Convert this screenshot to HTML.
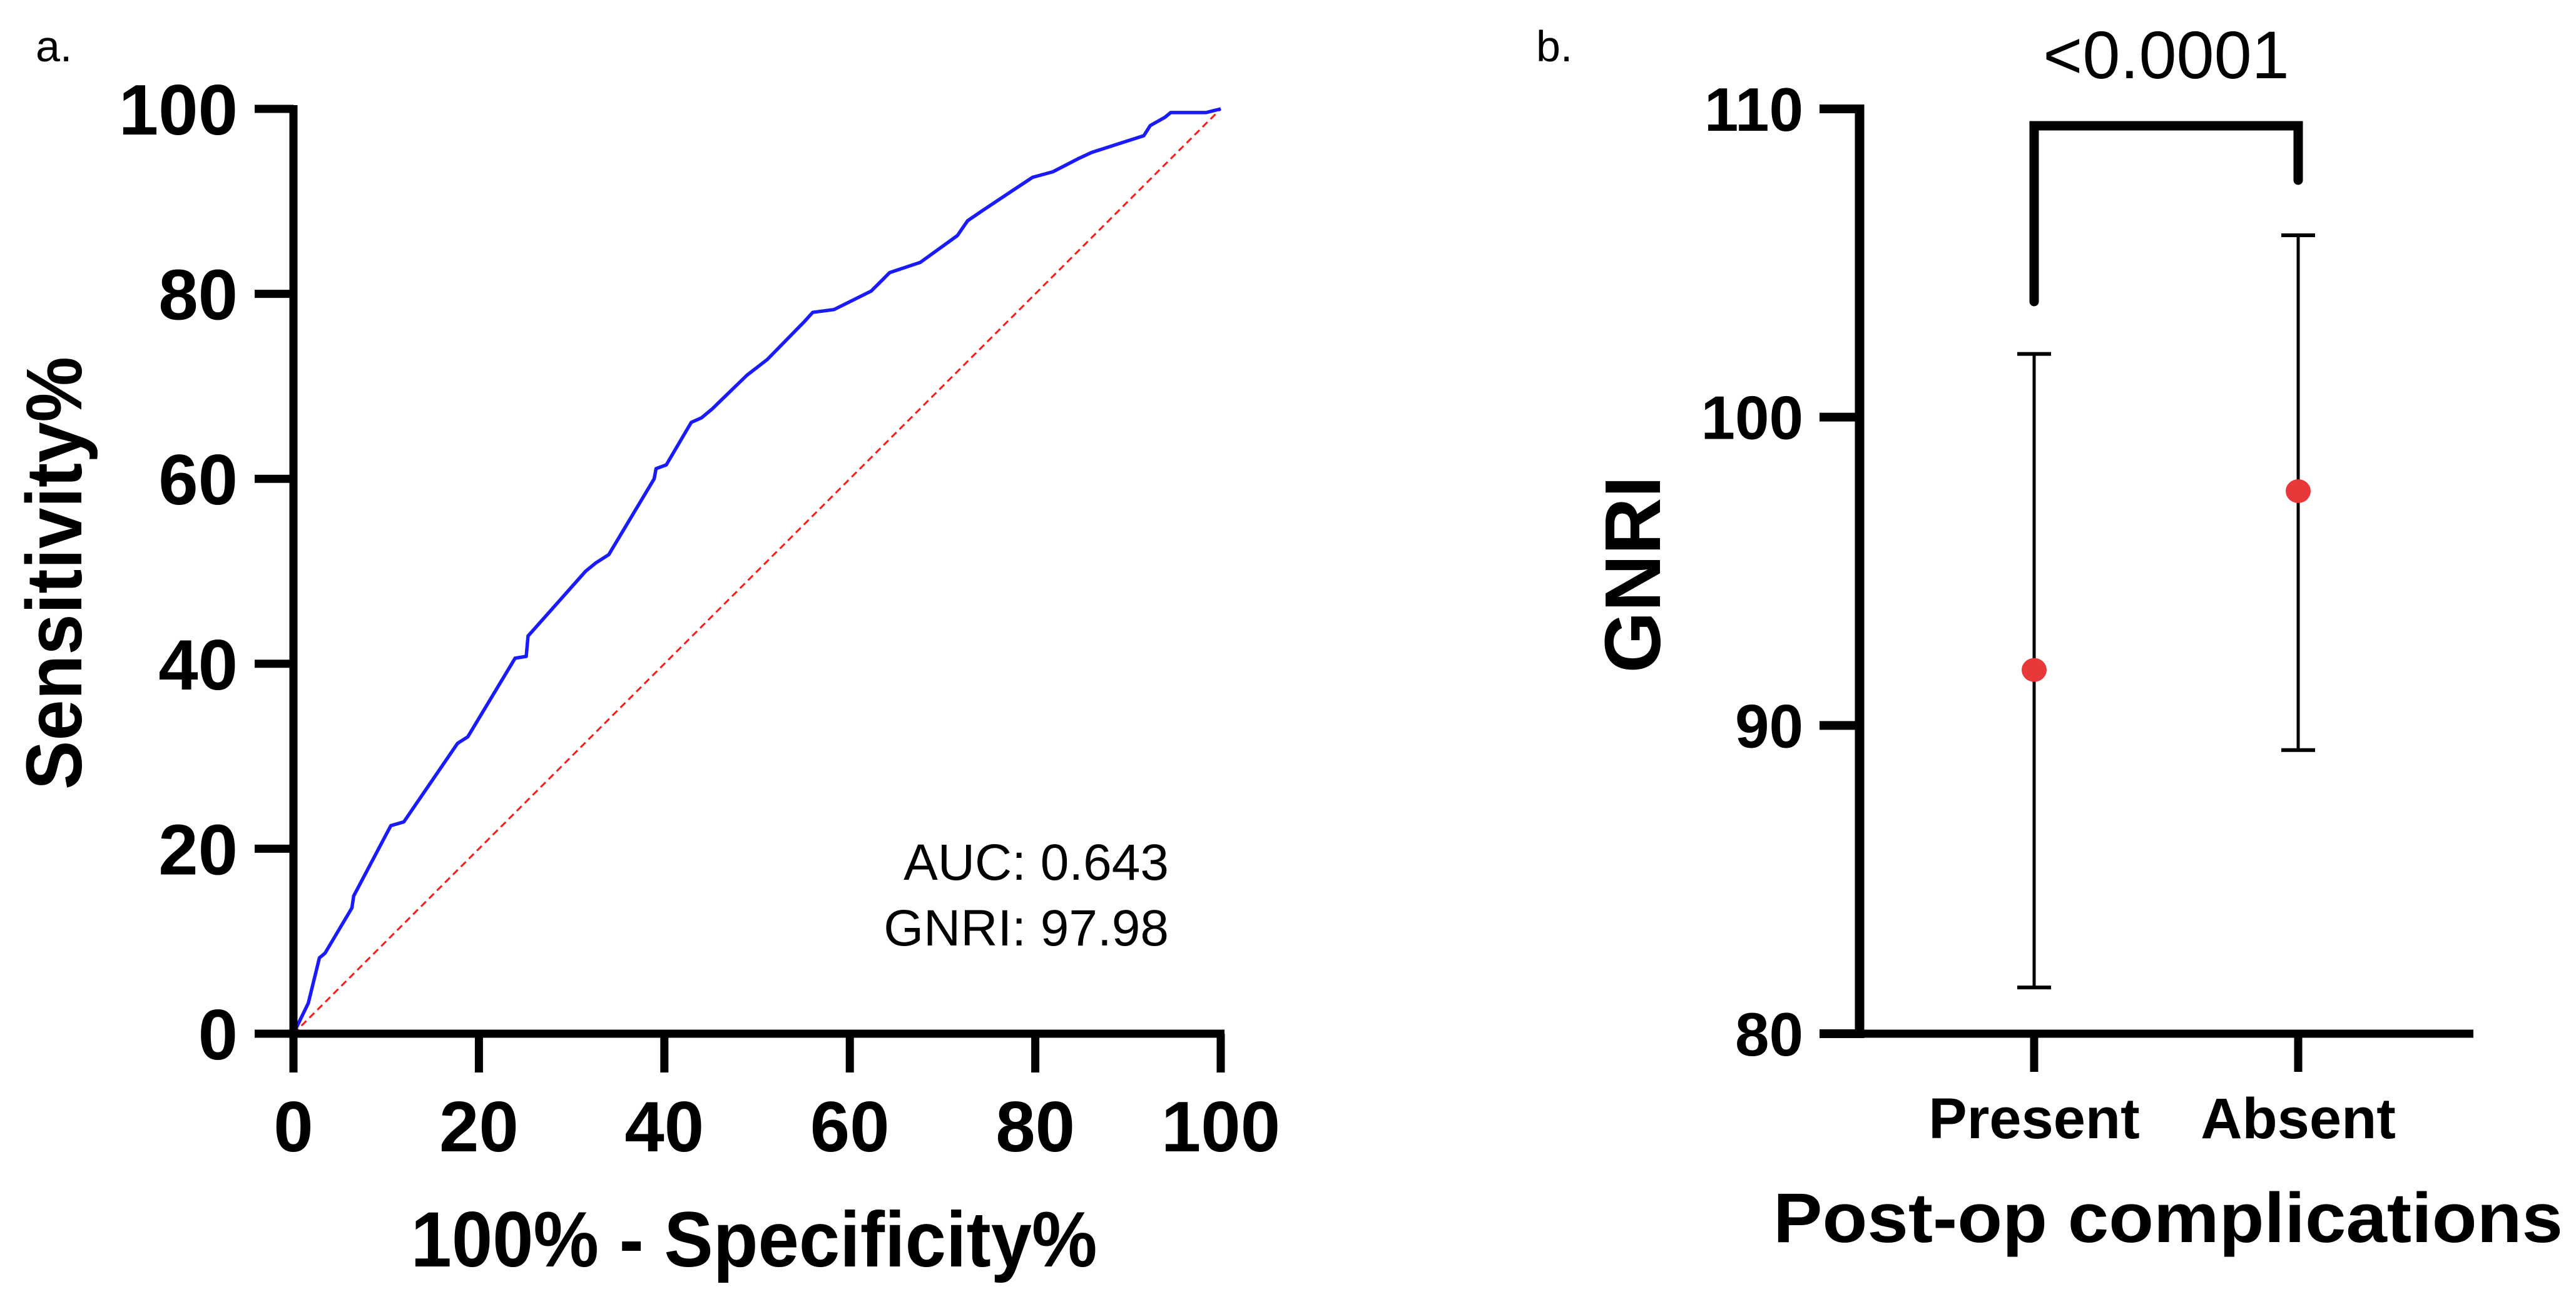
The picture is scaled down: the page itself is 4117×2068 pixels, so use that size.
<!DOCTYPE html>
<html><head><meta charset="utf-8"><style>
html,body{margin:0;padding:0;background:#fff;}
svg{display:block;font-family:"Liberation Sans",Arial,sans-serif;}
</style></head><body>
<svg id="fig" width="4117" height="2068" viewBox="0 0 4117 2068" xmlns="http://www.w3.org/2000/svg">
  <rect x="0" y="0" width="4117" height="2068" fill="#fff"/>
  <g id="panelA">
    <text x="57" y="98" font-size="70" fill="#000">a.</text>
    <g id="rocMarks"></g>
    <g id="rocAxes"></g>
    <text x="86" y="916" font-size="126" font-weight="bold" text-anchor="middle" transform="rotate(-90 86 916)" dy="44" textLength="692" lengthAdjust="spacingAndGlyphs">Sensitivity%</text>
    <text x="1205" y="2024" font-size="125" font-weight="bold" text-anchor="middle" textLength="1097" lengthAdjust="spacingAndGlyphs">100% - Specificity%</text>
    <text x="1868" y="1406" font-size="82" text-anchor="end">AUC: 0.643</text>
    <text x="1868" y="1511" font-size="82" text-anchor="end">GNRI: 97.98</text>
  </g>
  <g id="panelB">
    <text x="2455" y="98" font-size="70" fill="#000">b.</text>
    <g id="gnriMarks"></g>
    <g id="gnriAxes"></g>
    <text x="2608" y="918" font-size="126" font-weight="bold" text-anchor="middle" transform="rotate(-90 2608 918)" dy="45">GNRI</text>
    <text x="3465" y="1985" font-size="112" font-weight="bold" text-anchor="middle" textLength="1262" lengthAdjust="spacingAndGlyphs">Post-op complications</text>
  </g>
</svg>
<script>
// ---- Panel a data (ROC) ----
const rocFpr = [0,1.6,2.8,3.4,6.3,6.5,10.5,11.9,17.7,18.8,23.9,25.1,25.3,31.5,32.6,34.0,38.9,39.1,40.2,42.9,44.0,45.1,48.9,51.1,55.1,56.0,58.3,62.3,63.6,64.3,67.6,71.6,72.7,74.3,77.9,79.7,81.9,84.6,86.1,91.7,92.4,94.0,94.6,98.4,100];
const rocTpr = [0,3.3,8.2,8.7,13.6,14.9,22.5,22.9,31.4,32.1,40.6,40.8,43.0,50.0,50.9,51.8,60.0,61.1,61.5,66.1,66.6,67.5,71.2,72.9,77.0,78.0,78.3,80.3,81.6,82.3,83.4,86.3,87.9,89.0,91.4,92.6,93.2,94.6,95.3,97.1,98.2,99.1,99.6,99.6,100];
const rocTicks = [0,20,40,60,80,100];
const rocTickLabels = ["0","20","40","60","80","100"];

// ---- Panel b data ----
const groups = ["Present","Absent"];
const groupMeans = [91.8,97.6];
const groupUpper = [102.05,105.9];
const groupLower = [81.5,89.2];
const gnriTicks = [80,90,100,110];
const gnriTickLabels = ["80","90","100","110"];
const pValueLabel = "<0.0001";

const NS = "http://www.w3.org/2000/svg";
function mk(parent, tag, attrs){ const e=document.createElementNS(NS,tag); for(const k in attrs) e.setAttribute(k,attrs[k]); parent.appendChild(e); return e; }

// Panel a scales
const ax0=469, ax1=1951, ay0=1652, ay1=174;
const sx = v => ax0 + (v-0)/(100-0)*(ax1-ax0);
const sy = v => ay0 - (v-0)/(100-0)*(ay0-ay1);
const rocMarks=document.getElementById('rocMarks');
const rocAxes=document.getElementById('rocAxes');

let diag = mk(rocMarks,'line',{x1:sx(0),y1:sy(0),x2:sx(100),y2:sy(100),stroke:'#ff1a1a','stroke-width':3,'stroke-dasharray':'11 7'});


let d = rocFpr.map((f,i)=>(i?'L':'M')+sx(f).toFixed(1)+','+sy(rocTpr[i]).toFixed(1)).join(' ');
let roc = mk(rocMarks,'path',{d:d,fill:'none',stroke:'#1a1aff','stroke-width':5.5,'stroke-linejoin':'round'});



let yAx = mk(rocAxes,'line',{x1:ax0,y1:ay1-6,x2:ax0,y2:ay0+6,stroke:'#000','stroke-width':13});


let xAx = mk(rocAxes,'line',{x1:ax0-6,y1:ay0,x2:ax1+6,y2:ay0,stroke:'#000','stroke-width':13});


rocTicks.forEach((t,i)=>{
  let yt = mk(rocAxes,'line',{x1:407,y1:sy(t),x2:ax0,y2:sy(t),stroke:'#000','stroke-width':13});
  
  
  let yl = mk(rocAxes,'text',{x:380,y:sy(t)+41,'font-size':114,'font-weight':'bold','text-anchor':'end'});
  yl.textContent = rocTickLabels[i];
  
  
  let xt = mk(rocAxes,'line',{x1:sx(t),y1:ay0,x2:sx(t),y2:1714,stroke:'#000','stroke-width':13});
  
  
  let xl = mk(rocAxes,'text',{x:sx(t),y:1840,'font-size':114,'font-weight':'bold','text-anchor':'middle'});
  xl.textContent = rocTickLabels[i];
  
  
});

// Panel b scales
const bx0=2972, bx1=3953, by0=1652, by1=174, bmin=80, bmax=110;
const catX = [3251,3673];
const gy = v => by0 - (v-bmin)/(bmax-bmin)*(by0-by1);
const gm=document.getElementById('gnriMarks');
const ga=document.getElementById('gnriAxes');

groups.forEach((g,i)=>{
  const x=catX[i];
  let v = mk(gm,'line',{x1:x,y1:gy(groupUpper[i]),x2:x,y2:gy(groupLower[i]),stroke:'#000','stroke-width':5});
  
  
  let c1 = mk(gm,'line',{x1:x-27,y1:gy(groupUpper[i]),x2:x+27,y2:gy(groupUpper[i]),stroke:'#000','stroke-width':6});
  
  
  let c2 = mk(gm,'line',{x1:x-27,y1:gy(groupLower[i]),x2:x+27,y2:gy(groupLower[i]),stroke:'#000','stroke-width':6});
  
  
  let p = mk(gm,'ellipse',{cx:x,cy:gy(groupMeans[i]),rx:20,ry:19,fill:'#e8383a'});
  
  
  let t = mk(ga,'line',{x1:x,y1:by0,x2:x,y2:1713,stroke:'#000','stroke-width':13});
  
  
  let l = mk(ga,'text',{x:x,y:1819,'font-size':92,'font-weight':'bold','text-anchor':'middle'});
  l.textContent=g;
  
  
});

// significance bracket
let br = mk(gm,'path',{d:`M${catX[0]},482 L${catX[0]},201 L${catX[1]},201 L${catX[1]},288`,fill:'none',stroke:'#000','stroke-width':15,'stroke-linecap':'round','stroke-linejoin':'miter'});


let pv = mk(gm,'text',{x:(catX[0]+catX[1])/2,y:125,'font-size':108,'text-anchor':'middle'});
pv.textContent=pValueLabel;



let byA = mk(ga,'line',{x1:bx0,y1:by1-7,x2:bx0,y2:by0+7,stroke:'#000','stroke-width':15});


let bxA = mk(ga,'line',{x1:bx0-7,y1:by0,x2:bx1,y2:by0,stroke:'#000','stroke-width':13});


gnriTicks.forEach((t,i)=>{
  let tk = mk(ga,'line',{x1:2908,y1:gy(t),x2:bx0,y2:gy(t),stroke:'#000','stroke-width':14});
  
  
  let tl = mk(ga,'text',{x:2882,y:gy(t)+35,'font-size':98,'font-weight':'bold','text-anchor':'end'});
  tl.textContent=gnriTickLabels[i];
  
  
});
</script>
</body></html>
